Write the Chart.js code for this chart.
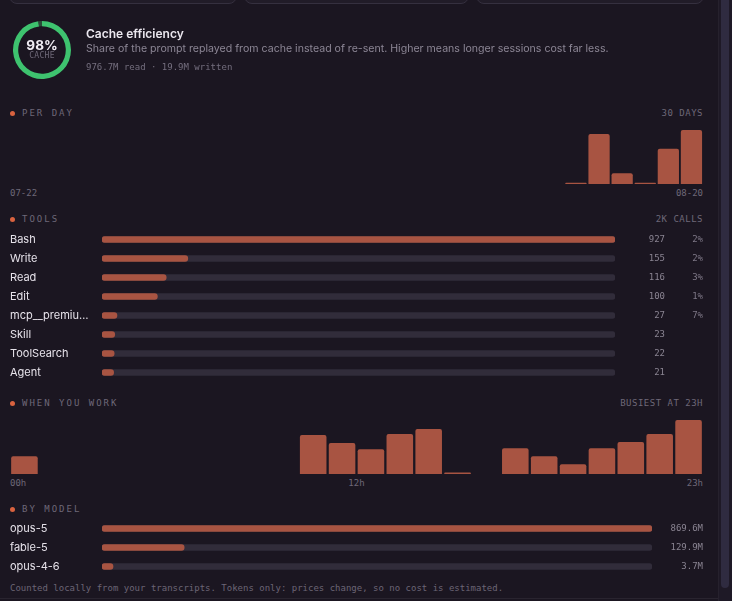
<!DOCTYPE html>
<html>
<head>
<meta charset="utf-8">
<script src="https://cdn.jsdelivr.net/npm/chart.js@4.4.1/dist/chart.umd.min.js"></script>
<style>
  html, body { margin: 0; padding: 0; width: 732px; height: 601px; overflow: hidden; background: #1b1621; }
  body { position: relative; font-family: Inter, "Noto Sans", sans-serif; }
  .abs { position: absolute; white-space: nowrap; }
  .mono { font-family: "DejaVu Sans Mono", monospace; }
  .card { position: absolute; top: -20px; height: 24px; box-sizing: border-box; border: 1px solid #35303f; border-radius: 8px; background: #211c28; }
  .sec { position: absolute; left: 10px; padding-left: 12px; font: 9px/12px "DejaVu Sans Mono", monospace; letter-spacing: 2px; color: #6e6878; }
  .sec::before { content: ""; position: absolute; left: 0; top: 3.5px; width: 5px; height: 5px; border-radius: 50%; background: #d9623f; }
  .side { position: absolute; right: 29px; font: 9px/12px "DejaVu Sans Mono", monospace; letter-spacing: 0.5px; color: #6e6878; }
  .axis { position: absolute; left: 10px; width: 693px; display: flex; justify-content: space-between; font: 9px/12px "DejaVu Sans Mono", monospace; color: #6e6878; }
  canvas { position: absolute; }
</style>
</head>
<body>
<div class="card" style="left:9px;width:228px"></div>
<div class="card" style="left:244px;width:225px"></div>
<div class="card" style="left:476px;width:228px"></div>

<canvas id="cache" width="58" height="58" style="left:13px;top:21px"></canvas>
<div class="abs" style="left:13px;top:38px;width:58px;text-align:center;font:700 13.5px/14px Inter,sans-serif;color:#f1edf4">98%</div>
<div class="abs mono" style="left:13px;top:51px;width:58px;text-align:center;font-size:8px;line-height:10px;letter-spacing:0.3px;color:#6e6878">CACHE</div>

<div class="abs" style="left:86px;top:27px;font:600 12px/14px Inter,sans-serif;color:#ebe7ef">Cache efficiency</div>
<div class="abs" style="left:86px;top:42px;font:10.6px/14px Inter,sans-serif;color:#8c8695">Share of the prompt replayed from cache instead of re-sent. Higher means longer sessions cost far less.</div>
<div class="abs mono" style="left:86px;top:61px;font-size:9px;line-height:12px;color:#746e7e">976.7M read · 19.9M written</div>

<div class="sec" style="top:107px">PER DAY</div>
<div class="side" style="top:107px">30 DAYS</div>
<canvas id="perDay" width="693" height="54" style="left:10px;top:130px"></canvas>
<div class="axis" id="dayAxis" style="top:187px"></div>

<div class="sec" style="top:213px">TOOLS</div>
<div class="side" style="top:213px">2K CALLS</div>
<canvas id="tools" width="693" height="152" style="left:10px;top:230px"></canvas>

<div class="sec" style="top:397px">WHEN YOU WORK</div>
<div class="side" style="top:397px">BUSIEST AT 23H</div>
<canvas id="hours" width="693" height="54" style="left:10px;top:420px"></canvas>
<div class="axis" id="hourAxis" style="top:477px"></div>

<div class="sec" style="top:503px">BY MODEL</div>
<canvas id="models" width="693" height="57" style="left:10px;top:519px"></canvas>

<div class="abs mono" style="left:10px;top:582px;font-size:9px;line-height:12px;color:#6b6575">Counted locally from your transcripts. Tokens only: prices change, so no cost is estimated.</div>

<div class="abs" style="left:0;top:598px;width:718px;height:1px;background:#29242f"></div>
<div class="abs" style="left:718px;top:0;width:14px;height:601px;background:#1e1926;border-left:1px solid #26212d;box-sizing:border-box"></div>
<div class="abs" style="left:721px;top:-6px;width:8px;height:594px;border-radius:4px;background:#2f2b40"></div>

<script>
const CACHE_PCT = 98;

const DAY_LABELS = ['07-22', '07-23', '07-24', '07-25', '07-26', '07-27', '07-28', '07-29', '07-30', '07-31',
  '08-01', '08-02', '08-03', '08-04', '08-05', '08-06', '08-07', '08-08', '08-09', '08-10',
  '08-11', '08-12', '08-13', '08-14', '08-15', '08-16', '08-17', '08-18', '08-19', '08-20'];
const DAY_TOKENS_M = [0, 0, 0, 0, 0, 0, 0, 0, 0, 0,
  0, 0, 0, 0, 0, 0, 0, 0, 0, 0,
  0, 0, 0, 0, 9, 328, 71, 8, 231, 355];

const TOOL_NAMES = ['Bash', 'Write', 'Read', 'Edit', 'mcp__premiu…', 'Skill', 'ToolSearch', 'Agent'];
const TOOL_CALLS = [927, 155, 116, 100, 27, 23, 22, 21];
const TOOL_ERRORS = ['2%', '2%', '3%', '1%', '7%', '', '', ''];

const HOUR_LABELS = ['00h', '01h', '02h', '03h', '04h', '05h', '06h', '07h', '08h', '09h', '10h', '11h',
  '12h', '13h', '14h', '15h', '16h', '17h', '18h', '19h', '20h', '21h', '22h', '23h'];
const HOUR_MSGS = [71, 0, 0, 0, 0, 0, 0, 0, 0, 0, 155, 123, 99, 159, 179, 6, 0, 103, 71, 39, 103, 127, 159, 215];

const MODEL_NAMES = ['opus-5', 'fable-5', 'opus-4-6'];
const MODEL_TOKENS_M = [869.6, 129.9, 3.7];

const BAR = '#a85442';
const TRACK = '#312c3a';
const TXT = '#e6e2ea';
const NUM = '#8a8492';
const MONO = '"DejaVu Sans Mono", monospace';

Chart.defaults.animation = false;
Chart.defaults.font.family = 'Inter, sans-serif';

const QUIET = { legend: { display: false }, tooltip: { enabled: false } };

// sparse axis labels under the column charts: first, middle (hours only), last
function axisLabels(id, labels) {
  const el = document.getElementById(id);
  labels.forEach((l) => {
    const s = document.createElement('span');
    s.textContent = l;
    el.appendChild(s);
  });
}

// fixed width side column, and no half-label padding eating into the rows
function fixWidth(w) {
  return (s) => {
    s.width = w;
    s.paddingTop = 0;
    s.paddingBottom = 0;
  };
}

function columnChart(id, labels, values) {
  return new Chart(document.getElementById(id), {
    type: 'bar',
    data: {
      labels,
      datasets: [{
        data: values,
        backgroundColor: BAR,
        borderRadius: { topLeft: 2, topRight: 2, bottomLeft: 0, bottomRight: 0 },
        borderSkipped: false,
        categoryPercentage: 1,
        barPercentage: 0.92,
      }],
    },
    options: {
      responsive: false,
      layout: { padding: 0 },
      plugins: QUIET,
      scales: {
        x: { display: false },
        y: { display: false, min: 0, max: Math.max(...values) },
      },
    },
  });
}

function rowChart(id, labels, values, cols) {
  const max = Math.max(...values);
  const hidden = { grid: { display: false, drawTicks: false }, border: { display: false } };
  const scales = {
    x: { display: false, min: 0, max },
    y: {
      ...hidden,
      ticks: { crossAlign: 'far', padding: 0, autoSkip: false, color: TXT, font: { size: 11 } },
      afterFit: fixWidth(92),
    },
  };
  cols.forEach((c, k) => {
    scales['c' + k] = {
      ...hidden,
      type: 'category',
      position: 'right',
      offset: true,
      weight: k + 1,
      ticks: {
        crossAlign: 'far', padding: 0, autoSkip: false,
        color: c.color, font: { family: MONO, size: 9 },
        callback: (v, i) => c.text[i],
      },
      afterFit: fixWidth(c.width),
    };
  });

  return new Chart(document.getElementById(id), {
    type: 'bar',
    data: {
      labels,
      datasets: [
        { data: values, backgroundColor: BAR, minBarLength: 11 },
        { data: labels.map(() => max), backgroundColor: TRACK },
      ],
    },
    options: {
      indexAxis: 'y',
      responsive: false,
      layout: { padding: 0 },
      datasets: { bar: { grouped: false, barThickness: 6, borderRadius: 3, borderSkipped: false } },
      plugins: QUIET,
      scales,
    },
  });
}

new Chart(document.getElementById('cache'), {
  type: 'doughnut',
  data: {
    datasets: [{
      data: [CACHE_PCT, 100 - CACHE_PCT],
      backgroundColor: ['#3ec36f', '#2a4a38'],
      borderWidth: 0,
    }],
  },
  options: { responsive: false, cutout: '82%', plugins: QUIET },
});

columnChart('perDay', DAY_LABELS, DAY_TOKENS_M);
axisLabels('dayAxis', [DAY_LABELS[0], DAY_LABELS[DAY_LABELS.length - 1]]);

rowChart('tools', TOOL_NAMES, TOOL_CALLS, [
  { text: TOOL_CALLS.map(String), color: NUM, width: 50 },
  { text: TOOL_ERRORS, color: '#7d7786', width: 38 },
]);

columnChart('hours', HOUR_LABELS, HOUR_MSGS);
axisLabels('hourAxis', [HOUR_LABELS[0], HOUR_LABELS[12], HOUR_LABELS[23]]);

rowChart('models', MODEL_NAMES, MODEL_TOKENS_M, [
  { text: MODEL_TOKENS_M.map((v) => v.toFixed(1) + 'M'), color: NUM, width: 51 },
]);
</script>
</body>
</html>
